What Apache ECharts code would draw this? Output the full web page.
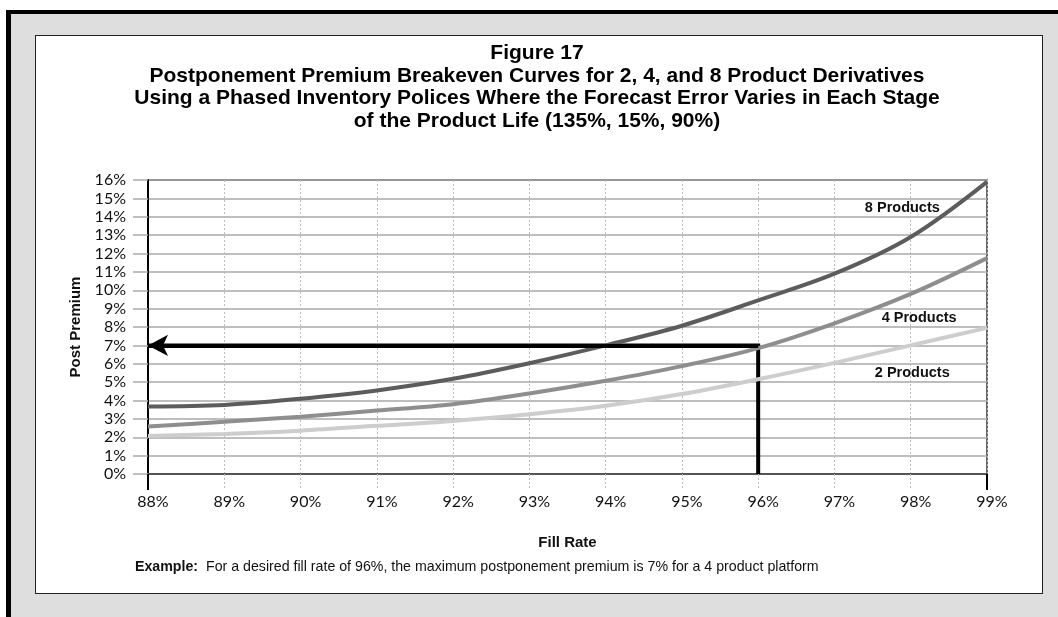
<!DOCTYPE html>
<html>
<head>
<meta charset="utf-8">
<title>Figure 17</title>
<script src="https://cdn.jsdelivr.net/npm/echarts@6/dist/echarts.min.js"></script>
<style>
  html, body { margin: 0; padding: 0; overflow: hidden; background: #fff; }
  #frame { position: absolute; left: 6px; top: 10px; width: 1100px; height: 700px;
           border-top: 4px solid #000; border-left: 5px solid #000; background: #dedede; }
  #panel { position: absolute; left: 35px; top: 35px; width: 1006px; height: 557px;
           border: 1.5px solid #222; background: #fff; }
  #main { position: absolute; left: 0; top: 0; width: 1058px; height: 617px; }
</style>
</head>
<body>
<div id="frame"></div>
<div id="panel"></div>
<div id="main"></div>
<script type="text/javascript">
// fill rate (%) on the x axis
var fillRate = [88, 89, 90, 91, 92, 93, 94, 95, 96, 97, 98, 99];
// breakeven postponement premium (%) for each platform size
var premium8 = [3.68, 3.76, 4.1, 4.55, 5.18, 6.03, 7.0, 8.07, 9.45, 10.9, 12.9, 15.9];
var premium4 = [2.58, 2.84, 3.12, 3.45, 3.8, 4.38, 5.07, 5.87, 6.85, 8.2, 9.8, 11.75];
var premium2 = [2.07, 2.18, 2.36, 2.62, 2.89, 3.25, 3.71, 4.35, 5.16, 6.05, 7.0, 7.95];
var seriesNames = ['8 Products', '4 Products', '2 Products'];
// worked example: 96% fill rate -> 7% premium
var exampleFill = 96;
var examplePremium = 7;

var titleLines = [
  'Figure 17',
  'Postponement Premium Breakeven Curves for 2, 4, and 8 Product Derivatives',
  'Using a Phased Inventory Polices Where the Forecast Error Varies in Each Stage',
  'of the Product Life (135%, 15%, 90%)'
];
var footnote = 'For a desired fill rate of 96%, the maximum postponement premium is 7% for a 4 product platform';

var sans = "'Liberation Sans', Arial, sans-serif";
var tickFont = "Lato, 'Liberation Sans', sans-serif";

function pairs(ys) {
  var out = [];
  for (var i = 0; i < fillRate.length; i++) out.push([fillRate[i], ys[i]]);
  return out;
}

function curve(name, ys, color, labelAt) {
  return {
    name: name,
    type: 'line',
    xAxisIndex: 0,
    data: pairs(ys),
    smooth: 0.35,
    symbol: 'none',
    lineStyle: { color: color, width: 4 },
    markPoint: {
      symbol: 'circle',
      symbolSize: 1,
      itemStyle: { color: 'rgba(0,0,0,0)' },
      label: {
        show: true, position: 'inside', formatter: name,
        color: '#111', fontFamily: sans, fontWeight: 'bold', fontSize: 14.5
      },
      data: [{ coord: labelAt }]
    },
    z: 3
  };
}

var chart = echarts.init(document.getElementById('main'));

var option = {
  backgroundColor: 'transparent',
  animation: false,
  title: [
    {
      text: titleLines.join('\n'),
      left: 537, top: 42, padding: 0,
      textAlign: 'center',
      textStyle: { fontFamily: sans, fontWeight: 'bold',
                   fontSize: 21, lineHeight: 22.5, color: '#000' }
    },
    {
      text: '{b|Example:}  ' + footnote,
      left: 135, top: 560, padding: 0,
      textStyle: {
        fontFamily: sans, fontSize: 14.2, color: '#111', fontWeight: 'normal',
        rich: { b: { fontFamily: sans, fontSize: 14.2, fontWeight: 'bold', color: '#111' } }
      }
    }
  ],
  grid: {
    left: 148, right: 71, top: 180, bottom: 143,
    show: true, borderColor: '#333', borderWidth: 1.5, backgroundColor: 'transparent'
  },
  xAxis: [
    {
      type: 'value', min: 88, max: 99, interval: 1,
      name: 'Fill Rate', nameLocation: 'middle', nameGap: 61,
      nameTextStyle: { fontFamily: sans, fontWeight: 'bold', fontSize: 15, color: '#111' },
      axisLine: { show: true, lineStyle: { color: '#555', width: 2 } },
      axisTick: { show: true, length: 16, lineStyle: { color: '#bbb', width: 1, type: [2, 2] } },
      axisLabel: { formatter: '{value}%', margin: 20, padding: [0, 0, 0, 10],
                   fontFamily: tickFont, fontSize: 16, color: '#111' },
      splitLine: { show: true, lineStyle: { color: '#bbb', width: 1, type: [2, 2] } }
    },
    {
      type: 'value', min: 88, max: 99, interval: 11, position: 'bottom',
      axisLine: { show: false },
      axisTick: { show: true, length: 16, lineStyle: { color: '#000', width: 2 } },
      axisLabel: { show: false },
      splitLine: { show: false }
    }
  ],
  yAxis: {
    type: 'value', min: 0, max: 16, interval: 1,
    name: 'Post Premium', nameLocation: 'middle', nameGap: 62,
    nameTextStyle: { fontFamily: sans, fontWeight: 'bold', fontSize: 15, color: '#111' },
    axisLine: { show: true, lineStyle: { color: '#000', width: 2 } },
    axisTick: { show: true, length: 15, lineStyle: { color: '#aaa', width: 1.5 } },
    axisLabel: { formatter: '{value}%', margin: 22, fontFamily: tickFont, fontSize: 16, color: '#111' },
    splitLine: { show: true, lineStyle: { color: '#a8a8a8', width: 1.5 } }
  },
  series: [
    {
      name: 'example',
      type: 'line',
      data: [[exampleFill, 0], [exampleFill, examplePremium], [fillRate[0], examplePremium]],
      symbol: 'none',
      lineStyle: { color: '#000', width: 4, join: 'miter' },
      markLine: {
        silent: true,
        symbol: ['none', 'arrow'],
        symbolSize: [16, 20],
        label: { show: false },
        lineStyle: { color: '#000', width: 4, type: 'solid' },
        data: [[{ coord: [exampleFill, examplePremium] }, { coord: [fillRate[0], examplePremium] }]]
      },
      z: 2
    },
    curve(seriesNames[2], premium2, '#cdcdcd', [98.02, 5.5]),
    curve(seriesNames[1], premium4, '#8e8e8e', [98.11, 8.49]),
    curve(seriesNames[0], premium8, '#5c5c5c', [97.89, 14.48])
  ]
};

chart.setOption(option);
</script>
</body>
</html>
